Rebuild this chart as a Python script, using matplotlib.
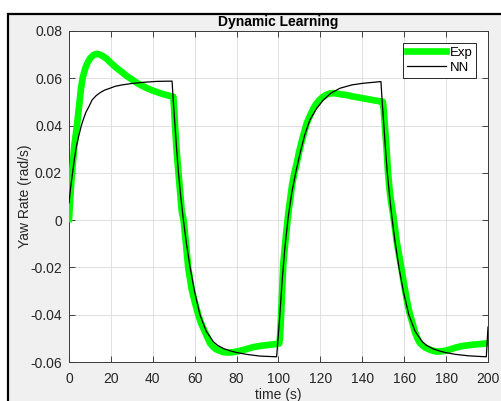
import matplotlib
matplotlib.use("Agg")
import matplotlib.pyplot as plt
from matplotlib.patches import Rectangle

plt.rcParams['font.family'] = ['Liberation Sans', 'DejaVu Sans']
plt.rcParams['axes.unicode_minus'] = False

exp_t = [0, 0.5, 1, 1.4, 2, 2.5, 3.2, 3.8, 4.4, 5, 5.7, 6.5, 7.2, 8, 9, 10, 11, 12, 13.4, 14.5,
         16, 18, 20, 22.5, 25, 27.5, 30, 32.5, 35, 37.5, 40, 42.5, 45, 47.5, 49.8,
         50.2, 50.6, 51, 51.4, 52.2, 53, 53.8, 54.7, 55.5, 56.9, 58.5, 60, 61.7, 63, 64.5, 66,
         67.3, 68.7, 70, 72, 73.7, 76, 78, 80, 82, 84, 86, 88, 90, 92, 94, 96, 98, 100.3,
         100.7, 101.1, 101.5, 101.9, 102.3, 102.9, 103.5, 104.1, 104.7, 105.6, 106.5, 107.6,
         108.7, 109.8, 111, 112.2, 113.5, 114.8, 116, 117, 118.2, 119.5, 121, 122.8, 124.6,
         126.3, 128, 130, 132.6, 135, 137.5, 140.5, 143, 145.5, 148, 149.8,
         150.3, 150.8, 151.2, 151.6, 152.3, 153, 153.8, 154.8, 155.6, 156.5, 157.5, 158.5,
         159.5, 160.5, 161.5, 162.5, 163.8, 165, 166.3, 167.5, 169, 170.5, 172.3, 174, 175.5,
         177.5, 180, 182.5, 185, 187.5, 190, 192.5, 195, 197.5, 199.8]
exp_y = [0.0005, 0.008, 0.015, 0.020, 0.0255, 0.031, 0.036, 0.040, 0.045, 0.050, 0.0555, 0.060,
         0.0625, 0.0648, 0.0668, 0.0683, 0.0693, 0.0700, 0.0703, 0.0701,
         0.0695, 0.0682, 0.0665, 0.0645, 0.0628, 0.0610, 0.0595, 0.0580, 0.0568, 0.0557, 0.0548,
         0.0540, 0.0533, 0.0527, 0.0522,
         0.0470, 0.0400, 0.0345, 0.0290, 0.0205, 0.0120, 0.0040, 0.0000, -0.0070, -0.0200,
         -0.0290, -0.0345, -0.0400, -0.0435, -0.0465, -0.0495,
         -0.0520, -0.0535, -0.0545, -0.0553, -0.0558, -0.0560, -0.0559, -0.0556, -0.0552,
         -0.0547, -0.0542, -0.0537, -0.0534, -0.0531, -0.0529, -0.0527, -0.0525, -0.0522,
         -0.0500, -0.0430, -0.0350, -0.0270, -0.0183, -0.0125, -0.0070, -0.0020, 0.0030, 0.0090,
         0.0150, 0.0200,
         0.0240, 0.0287, 0.0330, 0.0370, 0.0410, 0.0437, 0.0460, 0.0478, 0.0494, 0.0508, 0.0520,
         0.0530, 0.0536,
         0.0537, 0.0535, 0.0532, 0.0529, 0.0524, 0.0520, 0.0515, 0.0511, 0.0507, 0.0503, 0.0501,
         0.0460, 0.0395, 0.0350, 0.0300, 0.0200, 0.0130, 0.0075, 0.0020, -0.0035, -0.0095,
         -0.0145, -0.0195,
         -0.0250, -0.0300, -0.0350, -0.0390, -0.0430, -0.0470, -0.0500, -0.0520, -0.0532,
         -0.0541, -0.0548, -0.0553, -0.0556,
         -0.0555, -0.0552, -0.0545, -0.0538, -0.0533, -0.0530, -0.0527, -0.0525, -0.0523, -0.0521]

# Neural network output (black)
nn_t = [0, 0.8, 1.7, 2.6, 3.5, 4.7, 5.9, 7, 8, 9.5, 11, 13, 15, 17, 19.6, 22, 25.3, 30, 35.5,
        42, 49.2,
        49.8, 50.4, 51.3, 52.2, 53.4, 54.6, 56, 57.8, 60, 62.5, 65.5, 68.9, 71, 74, 77, 80, 85,
        91.2, 99.1,
        99.8, 100.7, 101.8, 103.1, 104.6, 106.3, 108.2, 110.3, 112.5, 115, 118, 121.4, 125,
        129.4, 135, 140.5, 148.9,
        149.5, 150.1, 151, 151.9, 153.1, 154.3, 155.7, 157.5, 159.7, 162.2, 165.2, 168.6, 170.7,
        173.7, 176.7, 179.7, 184.7, 190.9, 199.2, 200]
nn_y = [0.0073, 0.0140, 0.0200, 0.0260, 0.0310, 0.0358, 0.0400, 0.0430, 0.0455, 0.0480, 0.0508,
        0.0527, 0.0540, 0.0550, 0.0558, 0.0566, 0.0572, 0.0578, 0.0583, 0.0587, 0.0588,
        0.0500, 0.0424, 0.0310, 0.0205, 0.0095, 0.0000, -0.0095, -0.0200, -0.0305, -0.0400,
        -0.0470, -0.0514, -0.0530, -0.0544, -0.0553, -0.0560, -0.0568, -0.0575, -0.0578,
        -0.0500, -0.0394, -0.0250, -0.0112, 0.0010, 0.0114, 0.0200, 0.0283, 0.0360, 0.0424,
        0.0470, 0.0508, 0.0537, 0.0558, 0.0572, 0.0579, 0.0586,
        0.0500, 0.0424, 0.0310, 0.0205, 0.0095, 0.0000, -0.0095, -0.0200, -0.0305, -0.0400,
        -0.0470, -0.0514, -0.0530, -0.0544, -0.0553, -0.0560, -0.0568, -0.0574, -0.0578,
        -0.0452]

xticks = list(range(0, 201, 20))
yticks = [-0.06, -0.04, -0.02, 0, 0.02, 0.04, 0.06, 0.08]
ytick_labels = ['-0.06', '-0.04', '-0.02', '0', '0.02', '0.04', '0.06', '0.08']

W, H = 502, 401
fig = plt.figure(figsize=(W / 100, H / 100), dpi=100, facecolor='white')
fig.add_artist(Rectangle((8.5 / W, -0.1), 1.2, 1 - 13.5 / H + 0.1, transform=fig.transFigure,
                         facecolor='#f0f0f0', edgecolor='black', linewidth=1.6, zorder=-10))

ax = fig.add_axes([69 / W, 1 - 362 / H, (488 - 69) / W, (362 - 31) / H])
ax.set_facecolor('white')
ax.plot(exp_t, exp_y, color='#00ff00', lw=4.8, solid_joinstyle='round', label='Exp', zorder=3)
ax.plot(nn_t, nn_y, color='black', lw=0.9, label='NN', zorder=4)

ax.set_xlim(0, 200)
ax.set_ylim(-0.06, 0.08)
ax.set_xticks(xticks)
ax.set_xticklabels([str(v) for v in xticks])
ax.set_yticks(yticks)
ax.set_yticklabels(ytick_labels)
ax.grid(True, color='#dcdcdc', lw=0.6)
ax.set_axisbelow(True)
ax.tick_params(direction='in', length=4, width=0.6, colors='#262626', labelsize=10,
               top=True, right=True)
ax.tick_params(axis='x', pad=7)
ax.tick_params(axis='y', pad=5)
for s in ax.spines.values():
    s.set_color('#3a3a3a')
    s.set_linewidth(0.7)

ax.set_title('Dynamic Learning', fontsize=10, fontweight='bold', color='black', pad=3.5)
ax.set_xlabel('time (s)', fontsize=10, color='#262626', labelpad=2)
ax.set_ylabel('Yaw Rate (rad/s)', fontsize=10, color='#262626', labelpad=-1)

leg = ax.legend(loc='upper right', fontsize=9.5, frameon=True, fancybox=False,
                handlelength=3.0, handletextpad=0.25, borderpad=0.3, labelspacing=0.2,
                borderaxespad=0.9)
leg.get_frame().set_edgecolor('#262626')
leg.get_frame().set_linewidth(0.7)
leg.get_frame().set_alpha(1)

fig.savefig('out.png', dpi=100, facecolor=fig.get_facecolor())
